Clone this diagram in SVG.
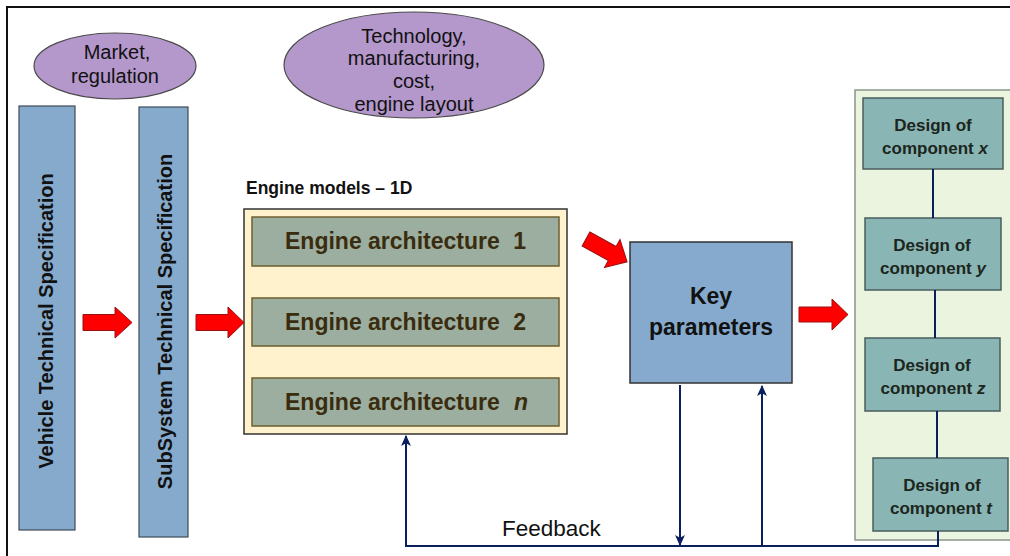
<svg xmlns="http://www.w3.org/2000/svg" width="1010" height="556" viewBox="0 0 1010 556">
<defs>
<style>
text{font-family:"Liberation Sans",Arial,sans-serif;}
.reg{font-size:20px;fill:#111;text-anchor:middle;}
.bar{fill:#86AACC;stroke:#3F4A55;stroke-width:1.2;}
.vt{font-size:20px;font-weight:bold;fill:#111;text-anchor:middle;}
.ell{fill:#B497CB;stroke:#4A4A4A;stroke-width:1.2;}
.arch{fill:#9CAEA0;stroke:#6E5F30;stroke-width:1.5;}
.archt{font-size:23px;font-weight:bold;fill:#3A2C0E;}
.comp{fill:#89B5B5;stroke:#4A5E5E;stroke-width:1.5;}
.compt{font-size:17px;font-weight:bold;fill:#1C261C;text-anchor:middle;}
.red{fill:#FF0000;stroke:#9A1010;stroke-width:1;}
.nav{stroke:#0B1F5C;stroke-width:2;fill:none;}
</style>
<marker id="ah" viewBox="0 0 10 10" refX="9" refY="5" markerWidth="11" markerHeight="11" markerUnits="userSpaceOnUse" orient="auto">
<path d="M0,0.5 L10,5 L0,9.5 L2.5,5 z" fill="#0B1F5C"/>
</marker>
</defs>
<rect x="0" y="0" width="1010" height="556" fill="#FFFFFF"/>
<rect x="7" y="7" width="1020" height="570" fill="none" stroke="#111" stroke-width="2"/>

<g id="market">
<ellipse class="ell" cx="115" cy="66" rx="81" ry="33"/>
<text class="reg" x="117" y="59">Market,</text>
<text class="reg" x="115" y="83">regulation</text>
</g>

<g id="technology">
<ellipse class="ell" cx="414" cy="65" rx="130" ry="53"/>
<text class="reg" x="414" y="43">Technology,</text>
<text class="reg" x="414" y="65">manufacturing,</text>
<text class="reg" x="414" y="88">cost,</text>
<text class="reg" x="414" y="111">engine layout</text>
</g>

<g id="vehicle-spec">
<rect class="bar" x="19" y="106" width="56" height="424"/>
<text class="vt" transform="translate(53,321) rotate(-90)">Vehicle Technical Specification</text>
</g>

<g id="subsystem-spec">
<rect class="bar" x="139" y="107" width="49" height="430"/>
<text class="vt" transform="translate(172,321.5) rotate(-90)">SubSystem Technical Specification</text>
</g>

<g id="engine-models">
<text x="246" y="194" style="font-size:17.5px;font-weight:bold;fill:#111">Engine models – 1D</text>
<rect x="244" y="209" width="323" height="225" fill="#FFF2CC" stroke="#333" stroke-width="1.5"/>
<g id="arch1">
<rect class="arch" x="252" y="217" width="307" height="49"/>
<text class="archt" x="285" y="249">Engine architecture</text>
<text class="archt" x="526" y="249" text-anchor="end">1</text>
</g>
<g id="arch2">
<rect class="arch" x="252" y="298" width="307" height="48"/>
<text class="archt" x="285" y="330">Engine architecture</text>
<text class="archt" x="526" y="330" text-anchor="end">2</text>
</g>
<g id="archn">
<rect class="arch" x="252" y="378" width="307" height="48"/>
<text class="archt" x="285" y="410">Engine architecture</text>
<text class="archt" x="528" y="410" text-anchor="end" font-style="italic">n</text>
</g>
</g>

<g id="key-parameters">
<rect x="630" y="242" width="162" height="141" fill="#86AACD" stroke="#333" stroke-width="1.5"/>
<text x="711" y="304" style="font-size:23px;font-weight:bold;fill:#111;text-anchor:middle">Key</text>
<text x="711" y="335" style="font-size:23px;font-weight:bold;fill:#111;text-anchor:middle">parameters</text>
</g>

<g id="components">
<rect x="855" y="90" width="170" height="450" fill="#EAF4DE" stroke="#8A948A" stroke-width="1.5"/>
<g id="comp-x">
<rect class="comp" x="863" y="98" width="140" height="71"/>
<text class="compt" x="933" y="131">Design of</text>
<text class="compt" x="935" y="154">component <tspan font-style="italic">x</tspan></text>
</g>
<g id="comp-y">
<rect class="comp" x="865" y="218" width="136" height="72"/>
<text class="compt" x="932" y="251">Design of</text>
<text class="compt" x="933" y="274">component <tspan font-style="italic">y</tspan></text>
</g>
<g id="comp-z">
<rect class="comp" x="865" y="338" width="135" height="73"/>
<text class="compt" x="932" y="371">Design of</text>
<text class="compt" x="933" y="394">component <tspan font-style="italic">z</tspan></text>
</g>
<g id="comp-t">
<rect class="comp" x="873" y="458" width="135" height="73"/>
<text class="compt" x="942" y="491">Design of</text>
<text class="compt" x="941" y="514">component <tspan font-style="italic">t</tspan></text>
</g>
</g>

<g id="connectors">
<path class="red" d="M83,314.5 H115 V307 L132,322.5 L115,338 V330.5 H83 Z"/>
<path class="red" d="M196,314.5 H228 V307 L244,322.5 L228,338 V330.5 H196 Z"/>
<path class="red" d="M799,307 H832 V299 L848,314.5 L832,330 V322 H799 Z"/>
<path class="red" transform="translate(586,239) rotate(29)" d="M0,-8 H30 V-16 L47,0 L30,16 V8 H0 Z"/>
<path class="nav" d="M933,169 V218 M935,290 V338 M937,411 V458"/>
<path class="nav" d="M938,531 V546 H406 V436" marker-end="url(#ah)"/>
<path class="nav" d="M680,385 V545" marker-end="url(#ah)"/>
<path class="nav" d="M762,546 V386" marker-end="url(#ah)"/>
<text x="502" y="536" style="font-size:22.5px;fill:#111">Feedback</text>
</g>
</svg>
